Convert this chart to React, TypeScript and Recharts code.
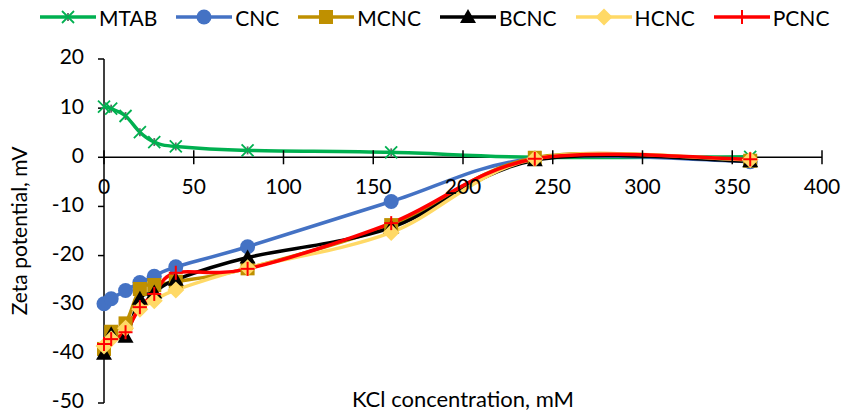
import React from "react";
import { LineChart, Line, XAxis, YAxis, ReferenceLine } from "recharts";

const kcl = [0, 4, 12, 20, 28, 40, 80, 160, 240, 360];
const mtab = [10.3, 9.9, 8.4, 5.1, 3.1, 2.2, 1.4, 1.0, 0, 0.1];
const cnc = [-29.8, -28.8, -27.1, -25.5, -24.2, -22.3, -18.2, -9.0, -0.2, -0.9];
const mcnc = [-39.0, -35.5, -33.8, -26.8, -26.0, -25.3, -22.6, -13.8, -0.1, -0.7];
const bcnc = [-40.0, -36.0, -36.5, -28.8, -27.5, -24.9, -20.4, -14.3, -0.6, -0.8];
const hcnc = [-38.4, -37.0, -34.8, -30.9, -29.2, -27.0, -22.5, -15.3, -0.3, -0.5];
const pcnc = [-38.0, -37.0, -35.6, -30.5, -27.8, -23.5, -22.7, -13.4, -0.3, -0.4];

const xTicks = [0, 50, 100, 150, 200, 250, 300, 350, 400];
const yTicks = [-50, -40, -30, -20, -10, 0, 10, 20];

const series = [
  { key: "MTAB", values: mtab, color: "#00B050", marker: "star" },
  { key: "CNC", values: cnc, color: "#4472C4", marker: "circle" },
  { key: "MCNC", values: mcnc, color: "#BF9000", marker: "square" },
  { key: "BCNC", values: bcnc, color: "#000000", marker: "triangle" },
  { key: "HCNC", values: hcnc, color: "#FFD966", marker: "diamond" },
  { key: "PCNC", values: pcnc, color: "#FF0000", marker: "plus" },
];

const rows = kcl.map((k, i) => {
  const r: any = { kcl: k };
  series.forEach((s) => (r[s.key] = s.values[i]));
  return r;
});

const W = 846;
const H = 414;
const MARGIN = { top: 59, right: 24, bottom: 0, left: 0 };
const Y_AXIS_W = 104;
const X_AXIS_H = 11;
const PLOT_H = H - MARGIN.top - MARGIN.bottom - X_AXIS_H;
const Y_MIN = -50;
const Y_MAX = 20;
const ZERO_Y = MARGIN.top + (PLOT_H * Y_MAX) / (Y_MAX - Y_MIN);
const FONT = "Lato, 'Open Sans', sans-serif";

// Excel-like smoothing (uniform Catmull-Rom through the points)
const excelCurve = (context: any) => {
  let pts: number[][] = [];
  return {
    areaStart() {},
    areaEnd() {},
    lineStart() {
      pts = [];
    },
    point(x: number, y: number) {
      pts.push([+x, +y]);
    },
    lineEnd() {
      if (!pts.length) return;
      context.moveTo(pts[0][0], pts[0][1]);
      for (let i = 0; i < pts.length - 1; i++) {
        const p0 = pts[i - 1] || pts[i];
        const p1 = pts[i];
        const p2 = pts[i + 1];
        const p3 = pts[i + 2] || p2;
        context.bezierCurveTo(
          p1[0] + (p2[0] - p0[0]) / 6,
          p1[1] + (p2[1] - p0[1]) / 6,
          p2[0] - (p3[0] - p1[0]) / 6,
          p2[1] - (p3[1] - p1[1]) / 6,
          p2[0],
          p2[1]
        );
      }
    },
  };
};

const Marker = ({ shape, cx, cy, color }: any) => {
  switch (shape) {
    case "circle":
      return <circle cx={cx} cy={cy} r={7.5} fill={color} />;
    case "square":
      return <rect x={cx - 7} y={cy - 7} width={14} height={14} fill={color} />;
    case "triangle":
      return <polygon points={`${cx},${cy - 8} ${cx + 8},${cy + 6} ${cx - 8},${cy + 6}`} fill={color} />;
    case "diamond":
      return <polygon points={`${cx},${cy - 8.5} ${cx + 8.5},${cy} ${cx},${cy + 8.5} ${cx - 8.5},${cy}`} fill={color} />;
    case "plus":
      return (
        <g stroke={color} strokeWidth={2}>
          <line x1={cx - 7} y1={cy} x2={cx + 7} y2={cy} />
          <line x1={cx} y1={cy - 7} x2={cx} y2={cy + 7} />
        </g>
      );
    default:
      return (
        <g strokeWidth={1.8}>
          <line x1={cx} y1={cy - 4} x2={cx} y2={cy + 4} stroke="#666" />
          <line x1={cx - 6} y1={cy - 6} x2={cx + 6} y2={cy + 6} stroke={color} />
          <line x1={cx - 6} y1={cy + 6} x2={cx + 6} y2={cy - 6} stroke={color} />
        </g>
      );
  }
};

const XTick = ({ x, payload }: any) => (
  <g>
    <line x1={x} y1={ZERO_Y - 7} x2={x} y2={ZERO_Y + 7} stroke="#000" strokeWidth={1.5} />
    <text x={x} y={ZERO_Y + 37} textAnchor="middle" fontSize={21} fontFamily={FONT} fill="#000">
      {payload.value}
    </text>
  </g>
);

const LegendRow = () => (
  <div
    style={{
      position: "absolute",
      left: 40,
      top: 4,
      display: "flex",
      alignItems: "center",
      fontFamily: FONT,
      fontSize: 21,
      whiteSpace: "nowrap",
    }}
  >
    {series.map((s) => (
      <div key={s.key} style={{ display: "flex", alignItems: "center", marginRight: 19 }}>
        <svg width={56} height={26}>
          <line x1={0} y1={13} x2={56} y2={13} stroke={s.color} strokeWidth={3.5} />
          <Marker shape={s.marker} cx={28} cy={13} color={s.color} />
        </svg>
        <span style={{ marginLeft: 3 }}>{s.key}</span>
      </div>
    ))}
  </div>
);

export default function App() {
  return (
    <div style={{ position: "absolute", left: 0, top: 0, width: W, height: H, background: "#fff" }}>
      <LineChart width={W} height={H} data={rows} margin={MARGIN}>
        <XAxis
          dataKey="kcl"
          type="number"
          domain={[0, 400]}
          ticks={xTicks}
          axisLine={false}
          tickLine={false}
          height={X_AXIS_H}
          tick={<XTick />}
          interval={0}
        />
        <YAxis
          type="number"
          domain={[Y_MIN, Y_MAX]}
          ticks={yTicks}
          width={Y_AXIS_W}
          axisLine={{ stroke: "#000", strokeWidth: 1.5 }}
          tickLine={{ stroke: "#000", strokeWidth: 1.5 }}
          tickSize={6}
          tickMargin={14}
          interval={0}
          tick={{ fontSize: 21, fontFamily: FONT, fill: "#000", dy: -2 }}
          label={{
            value: "Zeta potential, mV",
            angle: -90,
            position: "insideLeft",
            offset: 20,
            style: { textAnchor: "middle", fontSize: 21, fontFamily: FONT, fill: "#000" },
          }}
        />
        <ReferenceLine y={0} stroke="#000" strokeWidth={1.5} />
        {series.map((s) => (
          <Line
            key={s.key}
            dataKey={s.key}
            type={excelCurve as any}
            stroke={s.color}
            strokeWidth={3.5}
            isAnimationActive={false}
            dot={(p: any) => <Marker key={p.index} shape={s.marker} cx={p.cx} cy={p.cy} color={s.color} />}
            activeDot={false}
          />
        ))}
        <text x={463} y={407} textAnchor="middle" fontSize={22} fontFamily={FONT} fill="#000">
          KCl concentration, mM
        </text>
      </LineChart>
      <LegendRow />
    </div>
  );
}
